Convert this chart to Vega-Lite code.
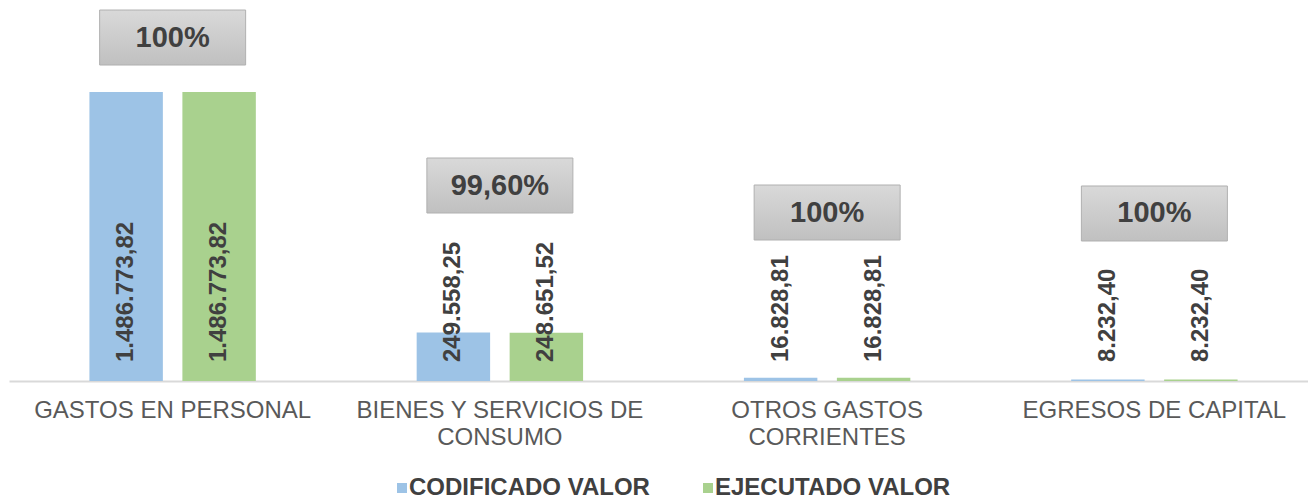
{
  "$schema": "https://vega.github.io/schema/vega-lite/v6.json",
  "width": 1309,
  "height": 381,
  "autosize": {"type": "none"},
  "padding": {"left": 9, "top": 0, "right": 0, "bottom": 119},
  "config": {
    "font": "Liberation Sans",
    "view": {"stroke": null},
    "locale": {"number": {"decimal": ",", "thousands": ".", "grouping": [3], "currency": ["$", ""]}}
  },
  "datasets": {
    "bars": [
      {"category": "GASTOS EN PERSONAL", "series": "CODIFICADO VALOR", "value": 1486773.82},
      {"category": "GASTOS EN PERSONAL", "series": "EJECUTADO VALOR", "value": 1486773.82},
      {"category": "BIENES Y SERVICIOS DE CONSUMO", "series": "CODIFICADO VALOR", "value": 249558.25},
      {"category": "BIENES Y SERVICIOS DE CONSUMO", "series": "EJECUTADO VALOR", "value": 248651.52},
      {"category": "OTROS GASTOS CORRIENTES", "series": "CODIFICADO VALOR", "value": 16828.81},
      {"category": "OTROS GASTOS CORRIENTES", "series": "EJECUTADO VALOR", "value": 16828.81},
      {"category": "EGRESOS DE CAPITAL", "series": "CODIFICADO VALOR", "value": 8232.40},
      {"category": "EGRESOS DE CAPITAL", "series": "EJECUTADO VALOR", "value": 8232.40}
    ],
    "boxes": [
      {"category": "GASTOS EN PERSONAL", "pct": "100%", "pos": 1767000},
      {"category": "BIENES Y SERVICIOS DE CONSUMO", "pct": "99,60%", "pos": 1005700},
      {"category": "OTROS GASTOS CORRIENTES", "pct": "100%", "pos": 866800},
      {"category": "EGRESOS DE CAPITAL", "pct": "100%", "pos": 861700}
    ]
  },
  "encoding": {
    "x": {
      "field": "category",
      "type": "nominal",
      "title": null,
      "scale": {
        "domain": ["GASTOS EN PERSONAL", "BIENES Y SERVICIOS DE CONSUMO", "OTROS GASTOS CORRIENTES", "EGRESOS DE CAPITAL"],
        "paddingInner": 0,
        "paddingOuter": 0
      },
      "axis": {
        "labelAngle": 0,
        "ticks": false,
        "grid": false,
        "domainColor": "#d9d9d9",
        "domainWidth": 2,
        "labelFontSize": 24,
        "labelColor": "#595959",
        "labelPadding": 17,
        "labelLineHeight": 27,
        "labelLimit": 0,
        "labelExpr": "datum.value == 'BIENES Y SERVICIOS DE CONSUMO' ? ['BIENES Y SERVICIOS DE', 'CONSUMO'] : datum.value == 'OTROS GASTOS CORRIENTES' ? ['OTROS GASTOS', 'CORRIENTES'] : datum.value"
      }
    }
  },
  "layer": [
    {
      "data": {"name": "bars"},
      "mark": {"type": "bar"},
      "encoding": {
        "xOffset": {"field": "series", "type": "nominal", "scale": {"paddingInner": 0.21, "paddingOuter": 0.865}},
        "y": {"field": "value", "type": "quantitative", "scale": {"domain": [0, 1960000], "nice": false}, "axis": null, "title": null},
        "color": {
          "field": "series",
          "type": "nominal",
          "scale": {"domain": ["CODIFICADO VALOR", "EJECUTADO VALOR"], "range": ["#9DC3E6", "#A9D18E"]},
          "legend": {
            "orient": "none",
            "legendX": 381,
            "legendY": 476,
            "direction": "horizontal",
            "title": null,
            "symbolType": "square",
            "symbolSize": 100,
            "symbolStrokeWidth": 0,
            "labelFontSize": 24,
            "labelFontWeight": "bold",
            "labelColor": "#404040",
            "labelOffset": -5,
            "labelLimit": 0,
            "columnPadding": 46,
            "padding": 0
          }
        }
      }
    },
    {
      "data": {"name": "bars"},
      "mark": {"type": "text", "angle": 270, "align": "left", "baseline": "middle", "dx": 19, "fontSize": 24, "fontWeight": "bold", "color": "#404040"},
      "encoding": {
        "xOffset": {"field": "series", "type": "nominal", "scale": {"paddingInner": 0.21, "paddingOuter": 0.865}},
        "y": {"datum": 0, "type": "quantitative"},
        "text": {"field": "value", "type": "quantitative", "format": ",.2f"}
      }
    },
    {
      "data": {"name": "boxes"},
      "mark": {
        "type": "point",
        "filled": true,
        "opacity": 1,
        "shape": "M-1,-0.3767H1V0.3767H-1Z",
        "size": 21316,
        "fill": {"gradient": "linear", "x1": 0, "y1": 0, "x2": 0, "y2": 1, "stops": [{"offset": 0, "color": "#d9d9d9"}, {"offset": 1, "color": "#c0c0c0"}]},
        "stroke": "#b0b0b0",
        "strokeWidth": 1
      },
      "encoding": {
        "y": {"field": "pos", "type": "quantitative"}
      }
    },
    {
      "data": {"name": "boxes"},
      "mark": {"type": "text", "align": "center", "baseline": "middle", "fontSize": 29, "fontWeight": "bold", "color": "#404040"},
      "encoding": {
        "y": {"field": "pos", "type": "quantitative"},
        "text": {"field": "pct", "type": "nominal"}
      }
    }
  ]
}
